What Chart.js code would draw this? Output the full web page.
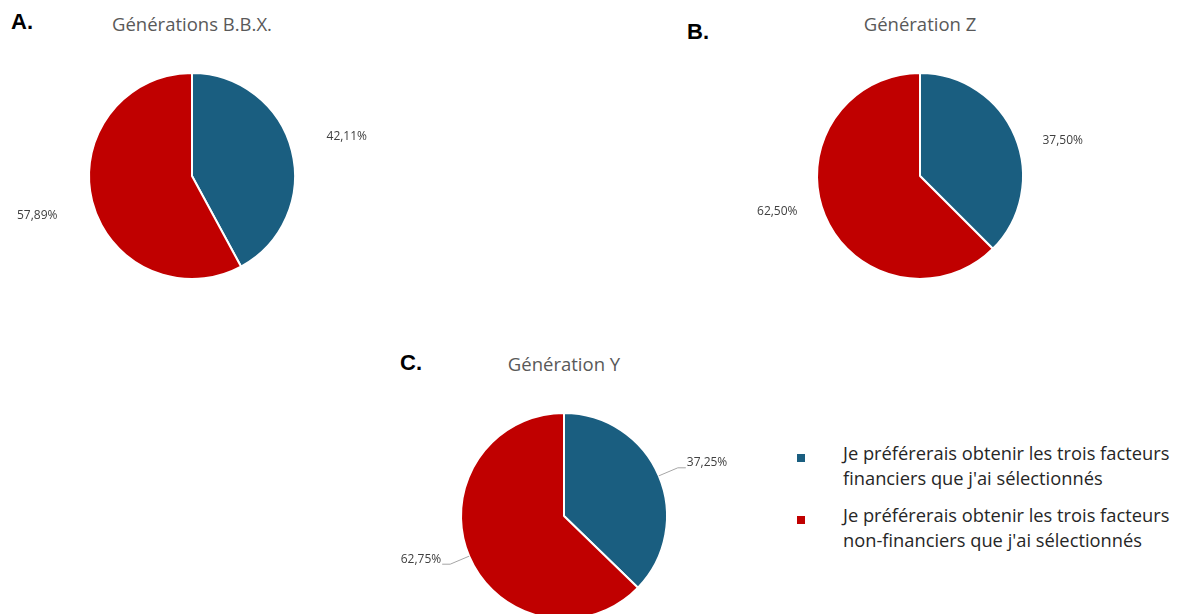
<!DOCTYPE html>
<html lang="fr">
<head>
<meta charset="utf-8">
<title>Préférences par génération</title>
<script src="https://cdn.jsdelivr.net/npm/chart.js@4.4.0/dist/chart.umd.min.js"></script>
<style>
    html, body {
        margin: 0;
        padding: 0;
        width: 1180px;
        height: 614px;
        overflow: hidden;
        background: #fff;
        font-family: "Open Sans", "Liberation Sans", sans-serif;
    }
    canvas { position: absolute; }
    .letter {
        position: absolute;
        font-family: "Liberation Sans", Arial, sans-serif;
        font-weight: 700;
        font-size: 22px;
        line-height: 24px;
        color: #000;
    }
    .title {
        position: absolute;
        font-size: 18.5px;
        line-height: 22px;
        color: #595959;
        white-space: nowrap;
        transform: translateX(-50%);
    }
    #legend {
        position: absolute;
        left: 797px;
        top: 440px;
        color: #262626;
        font-size: 18.3px;
        line-height: 25px;
    }
    .legend-item { position: relative; padding-left: 46px; margin-bottom: 12px; white-space: nowrap; }
    .legend-item span.box {
        position: absolute;
        left: 0;
        top: 14px;
        width: 8px;
        height: 8px;
    }
</style>
</head>
<body>

<div class="letter" style="left:11px; top:10px;">A.</div>
<div class="title" style="left:192px; top:13px;">Générations B.B.X.</div>
<canvas id="pieA" width="360" height="240" style="left:12px; top:56px;"></canvas>

<div class="letter" style="left:687px; top:20px;">B.</div>
<div class="title" style="left:920px; top:13px;">Génération Z</div>
<canvas id="pieB" width="360" height="240" style="left:740px; top:56px;"></canvas>

<div class="letter" style="left:400px; top:351px;">C.</div>
<div class="title" style="left:564px; top:353px;">Génération Y</div>
<canvas id="pieC" width="360" height="240" style="left:384px; top:396px;"></canvas>

<div id="legend"></div>

<script>
// Answer categories (multi-line labels) and colours
const categories = [
    ["Je préférerais obtenir les trois facteurs", "financiers que j'ai sélectionnés"],
    ["Je préférerais obtenir les trois facteurs", "non-financiers que j'ai sélectionnés"]
];
const sliceColors = ['#1A5E80', '#C00000'];

// Share of respondents (%) per generation
const genBBX = [42.11, 57.89];
const genZ = [37.50, 62.50];
const genY = [37.25, 62.75];

function formatPct(v) {
    return v.toFixed(2).replace('.', ',') + '%';
}

// Draws the percentage next to each slice, optionally with a leader line
const outsideLabels = {
    id: 'outsideLabels',
    afterDatasetsDraw(chart, args, opts) {
        const ctx = chart.ctx;
        const meta = chart.getDatasetMeta(0);
        const values = chart.data.datasets[0].data;
        ctx.save();
        ctx.font = '12px "Open Sans", sans-serif';
        ctx.fillStyle = '#404040';
        ctx.textBaseline = 'middle';
        meta.data.forEach((arc, i) => {
            const p = arc.getProps(['x', 'y', 'startAngle', 'endAngle', 'outerRadius'], true);
            const mid = (p.startAngle + p.endAngle) / 2;
            const cos = Math.cos(mid), sin = Math.sin(mid);
            const text = formatPct(values[i]);
            if (opts.leader) {
                const ax = p.x + cos * p.outerRadius;
                const ay = p.y + sin * p.outerRadius;
                const ex = p.x + cos * p.outerRadius * 1.2;
                const ey = p.y + sin * p.outerRadius * 1.2;
                const dir = cos >= 0 ? 1 : -1;
                const tx = ex + dir * 8;
                ctx.strokeStyle = '#a6a6a6';
                ctx.lineWidth = 1;
                ctx.beginPath();
                ctx.moveTo(ax, ay);
                ctx.lineTo(ex, ey);
                ctx.lineTo(tx, ey);
                ctx.stroke();
                ctx.textAlign = dir > 0 ? 'left' : 'right';
                ctx.fillText(text, tx + dir, ey - 5);
            } else {
                const d = p.outerRadius * opts.distance;
                const squash = opts.vScale || 1;
                ctx.textAlign = 'center';
                ctx.fillText(text, p.x + cos * d, p.y + sin * d * squash);
            }
        });
        ctx.restore();
    }
};

function makePie(id, values, labelOpts) {
    let ctx = document.getElementById(id).getContext('2d');
    return new Chart(ctx, {
        type: 'pie',
        data: {
            labels: categories,
            datasets: [{
                data: values,
                backgroundColor: sliceColors,
                borderColor: '#ffffff',
                borderWidth: 2
            }]
        },
        options: {
            responsive: false,
            animation: false,
            layout: { padding: { top: 16, bottom: 16 } },
            plugins: {
                legend: { display: false },
                tooltip: { enabled: false },
                outsideLabels: labelOpts
            }
        },
        plugins: [outsideLabels]
    });
}

makePie('pieA', genBBX, { distance: 1.55, leader: false });
makePie('pieB', genZ, { distance: 1.5, vScale: 0.6, leader: false });
makePie('pieC', genY, { leader: true });

// Shared legend
const legend = document.getElementById('legend');
categories.forEach((lines, i) => {
    let item = document.createElement('div');
    item.className = 'legend-item';
    let box = document.createElement('span');
    box.className = 'box';
    box.style.background = sliceColors[i];
    item.appendChild(box);
    lines.forEach((line, j) => {
        if (j > 0) item.appendChild(document.createElement('br'));
        item.appendChild(document.createTextNode(line));
    });
    legend.appendChild(item);
});
</script>
</body>
</html>
